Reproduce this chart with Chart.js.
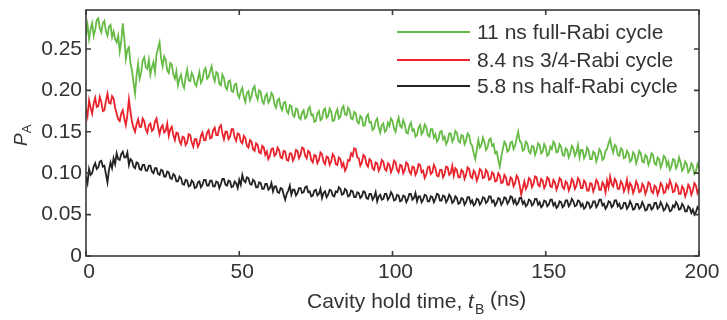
<!DOCTYPE html>
<html>
<head>
<meta charset="utf-8">
<script src="https://cdn.jsdelivr.net/npm/chart.js@4"></script>
<style>
  html, body { margin: 0; padding: 0; background: #ffffff; }
  #wrap { width: 727px; height: 320px; position: relative; }
</style>
</head>
<body>
<div id="wrap"><canvas id="c" width="727" height="320"></canvas></div>
<script>
// ---- data ----
const TIME_NS = Array.from({ length: 401 }, (_, i) => i / 2); // sampling grid, 0.5 ns steps

const SERIES_LABELS = ['11 ns full-Rabi cycle', '8.4 ns 3/4-Rabi cycle', '5.8 ns half-Rabi cycle'];

const FULL_RABI = [
  0.268, 0.279, 0.262, 0.274, 0.281, 0.266, 0.273, 0.285, 0.287, 0.275, 0.270, 0.281, 0.284, 0.271, 0.266, 0.277, 0.279, 0.264, 0.271, 0.262,
  0.258, 0.266, 0.247, 0.259, 0.281, 0.262, 0.238, 0.249, 0.252, 0.233, 0.224, 0.209, 0.196, 0.218, 0.232, 0.214, 0.221, 0.236, 0.240, 0.228,
  0.226, 0.237, 0.219, 0.228, 0.234, 0.222, 0.243, 0.251, 0.258, 0.239, 0.229, 0.241, 0.237, 0.224, 0.221, 0.233, 0.231, 0.219, 0.214, 0.223,
  0.206, 0.214, 0.219, 0.208, 0.203, 0.216, 0.225, 0.212, 0.211, 0.221, 0.217, 0.208, 0.205, 0.214, 0.222, 0.209, 0.213, 0.224, 0.227, 0.214,
  0.216, 0.223, 0.229, 0.217, 0.211, 0.222, 0.220, 0.208, 0.206, 0.219, 0.215, 0.204, 0.201, 0.211, 0.212, 0.199, 0.198, 0.207, 0.208, 0.195,
  0.191, 0.199, 0.203, 0.192, 0.186, 0.197, 0.199, 0.188, 0.193, 0.202, 0.205, 0.194, 0.189, 0.200, 0.198, 0.187, 0.184, 0.193, 0.196, 0.185,
  0.188, 0.197, 0.194, 0.183, 0.179, 0.188, 0.190, 0.180, 0.176, 0.185, 0.186, 0.175, 0.172, 0.182, 0.181, 0.170, 0.168, 0.178, 0.177, 0.167,
  0.165, 0.173, 0.176, 0.166, 0.168, 0.177, 0.180, 0.170, 0.171, 0.162, 0.163, 0.172, 0.175, 0.164, 0.166, 0.176, 0.178, 0.167, 0.169, 0.178,
  0.174, 0.163, 0.164, 0.173, 0.177, 0.166, 0.168, 0.178, 0.181, 0.171, 0.170, 0.179, 0.176, 0.166, 0.165, 0.174, 0.172, 0.162, 0.160, 0.169,
  0.167, 0.157, 0.158, 0.168, 0.171, 0.161, 0.162, 0.152, 0.154, 0.163, 0.166, 0.155, 0.149, 0.158, 0.160, 0.150, 0.152, 0.161, 0.157, 0.166,
  0.163, 0.154, 0.150, 0.160, 0.167, 0.157, 0.155, 0.164, 0.159, 0.149, 0.148, 0.157, 0.161, 0.151, 0.153, 0.144, 0.146, 0.155, 0.158, 0.147,
  0.150, 0.159, 0.156, 0.146, 0.144, 0.153, 0.153, 0.143, 0.147, 0.138, 0.141, 0.150, 0.151, 0.141, 0.144, 0.135, 0.139, 0.148, 0.148, 0.138,
  0.142, 0.151, 0.149, 0.139, 0.137, 0.146, 0.145, 0.135, 0.139, 0.148, 0.146, 0.136, 0.133, 0.124, 0.117, 0.128, 0.140, 0.131, 0.134, 0.143,
  0.138, 0.128, 0.131, 0.140, 0.142, 0.133, 0.135, 0.124, 0.126, 0.116, 0.108, 0.120, 0.129, 0.138, 0.135, 0.126, 0.128, 0.137, 0.138, 0.129,
  0.133, 0.142, 0.150, 0.139, 0.137, 0.127, 0.129, 0.138, 0.136, 0.126, 0.124, 0.133, 0.132, 0.122, 0.127, 0.136, 0.134, 0.124, 0.126, 0.135,
  0.131, 0.121, 0.123, 0.132, 0.129, 0.138, 0.135, 0.125, 0.126, 0.135, 0.132, 0.122, 0.121, 0.130, 0.128, 0.119, 0.124, 0.133, 0.130, 0.121,
  0.125, 0.134, 0.119, 0.128, 0.128, 0.118, 0.122, 0.131, 0.127, 0.117, 0.117, 0.126, 0.124, 0.114, 0.120, 0.129, 0.126, 0.116, 0.118, 0.127,
  0.129, 0.136, 0.141, 0.131, 0.125, 0.134, 0.132, 0.122, 0.121, 0.130, 0.128, 0.118, 0.119, 0.127, 0.124, 0.114, 0.116, 0.125, 0.122, 0.112,
  0.118, 0.127, 0.124, 0.114, 0.113, 0.122, 0.120, 0.110, 0.115, 0.124, 0.122, 0.112, 0.110, 0.119, 0.117, 0.107, 0.112, 0.121, 0.119, 0.109,
  0.114, 0.104, 0.108, 0.117, 0.116, 0.106, 0.110, 0.119, 0.113, 0.103, 0.106, 0.114, 0.111, 0.101, 0.104, 0.112, 0.109, 0.099, 0.102, 0.111,
  0.106
];

const THREE_QUARTER_RABI = [
  0.178, 0.169, 0.188, 0.179, 0.172, 0.184, 0.191, 0.180, 0.181, 0.192, 0.186, 0.175, 0.176, 0.187, 0.196, 0.185, 0.184, 0.193, 0.190, 0.179,
  0.172, 0.165, 0.163, 0.172, 0.176, 0.166, 0.158, 0.170, 0.189, 0.175, 0.162, 0.155, 0.150, 0.159, 0.165, 0.156, 0.156, 0.166, 0.163, 0.153,
  0.149, 0.158, 0.160, 0.151, 0.153, 0.162, 0.166, 0.156, 0.147, 0.155, 0.158, 0.149, 0.151, 0.160, 0.145, 0.153, 0.156, 0.146, 0.140, 0.149,
  0.148, 0.139, 0.135, 0.144, 0.143, 0.134, 0.137, 0.147, 0.146, 0.137, 0.132, 0.141, 0.141, 0.132, 0.136, 0.145, 0.149, 0.140, 0.140, 0.149,
  0.152, 0.142, 0.143, 0.152, 0.155, 0.146, 0.146, 0.155, 0.158, 0.148, 0.141, 0.150, 0.150, 0.141, 0.144, 0.153, 0.153, 0.143, 0.139, 0.148,
  0.147, 0.138, 0.136, 0.145, 0.142, 0.133, 0.131, 0.140, 0.138, 0.129, 0.127, 0.136, 0.134, 0.125, 0.124, 0.133, 0.131, 0.122, 0.126, 0.117,
  0.121, 0.129, 0.130, 0.121, 0.123, 0.131, 0.128, 0.119, 0.118, 0.127, 0.126, 0.116, 0.115, 0.124, 0.124, 0.115, 0.119, 0.128, 0.127, 0.118,
  0.122, 0.131, 0.130, 0.121, 0.118, 0.127, 0.125, 0.116, 0.113, 0.122, 0.121, 0.112, 0.116, 0.125, 0.123, 0.114, 0.111, 0.120, 0.119, 0.110,
  0.114, 0.123, 0.120, 0.111, 0.110, 0.119, 0.117, 0.108, 0.112, 0.103, 0.107, 0.116, 0.115, 0.124, 0.121, 0.130, 0.129, 0.119, 0.118, 0.109,
  0.113, 0.122, 0.120, 0.111, 0.108, 0.117, 0.115, 0.106, 0.104, 0.113, 0.112, 0.103, 0.107, 0.116, 0.114, 0.105, 0.103, 0.112, 0.110, 0.101,
  0.106, 0.115, 0.113, 0.104, 0.101, 0.110, 0.109, 0.100, 0.104, 0.113, 0.111, 0.102, 0.099, 0.108, 0.107, 0.098, 0.102, 0.111, 0.110, 0.101,
  0.103, 0.094, 0.098, 0.107, 0.108, 0.099, 0.101, 0.110, 0.106, 0.097, 0.096, 0.104, 0.104, 0.095, 0.099, 0.108, 0.107, 0.098, 0.100, 0.109,
  0.097, 0.106, 0.104, 0.095, 0.095, 0.104, 0.102, 0.093, 0.098, 0.107, 0.105, 0.096, 0.094, 0.103, 0.100, 0.091, 0.096, 0.105, 0.103, 0.094,
  0.095, 0.104, 0.101, 0.092, 0.093, 0.101, 0.099, 0.090, 0.091, 0.100, 0.097, 0.088, 0.089, 0.098, 0.095, 0.086, 0.086, 0.095, 0.093, 0.084,
  0.088, 0.097, 0.094, 0.085, 0.074, 0.082, 0.090, 0.081, 0.085, 0.094, 0.092, 0.083, 0.087, 0.096, 0.095, 0.086, 0.084, 0.093, 0.091, 0.082,
  0.086, 0.095, 0.093, 0.084, 0.083, 0.092, 0.089, 0.080, 0.085, 0.094, 0.092, 0.083, 0.081, 0.090, 0.088, 0.079, 0.084, 0.093, 0.090, 0.081,
  0.085, 0.094, 0.091, 0.082, 0.082, 0.091, 0.088, 0.079, 0.079, 0.088, 0.087, 0.078, 0.083, 0.092, 0.089, 0.080, 0.080, 0.089, 0.086, 0.077,
  0.091, 0.083, 0.096, 0.087, 0.084, 0.093, 0.090, 0.081, 0.081, 0.090, 0.087, 0.078, 0.083, 0.092, 0.079, 0.088, 0.085, 0.076, 0.081, 0.090,
  0.086, 0.077, 0.078, 0.087, 0.084, 0.075, 0.080, 0.089, 0.087, 0.078, 0.076, 0.085, 0.083, 0.074, 0.079, 0.088, 0.085, 0.076, 0.077, 0.086,
  0.082, 0.091, 0.086, 0.077, 0.078, 0.087, 0.084, 0.075, 0.075, 0.084, 0.081, 0.072, 0.077, 0.086, 0.083, 0.074, 0.079, 0.088, 0.085, 0.076,
  0.081
];

const HALF_RABI = [
  0.096, 0.088, 0.105, 0.098, 0.100, 0.108, 0.112, 0.105, 0.107, 0.114, 0.115, 0.108, 0.109, 0.099, 0.089, 0.104, 0.113, 0.106, 0.118, 0.111,
  0.124, 0.117, 0.116, 0.123, 0.126, 0.119, 0.119, 0.125, 0.110, 0.117, 0.115, 0.108, 0.106, 0.113, 0.112, 0.105, 0.104, 0.110, 0.110, 0.103,
  0.103, 0.109, 0.109, 0.102, 0.100, 0.106, 0.106, 0.099, 0.098, 0.104, 0.103, 0.096, 0.096, 0.102, 0.101, 0.094, 0.093, 0.099, 0.097, 0.090,
  0.090, 0.096, 0.094, 0.087, 0.086, 0.092, 0.091, 0.084, 0.085, 0.091, 0.089, 0.082, 0.083, 0.089, 0.090, 0.083, 0.086, 0.092, 0.092, 0.085,
  0.085, 0.091, 0.091, 0.084, 0.084, 0.090, 0.089, 0.082, 0.087, 0.093, 0.093, 0.086, 0.085, 0.091, 0.090, 0.083, 0.084, 0.090, 0.088, 0.082,
  0.092, 0.086, 0.098, 0.091, 0.089, 0.095, 0.094, 0.087, 0.086, 0.092, 0.090, 0.083, 0.083, 0.089, 0.088, 0.081, 0.081, 0.087, 0.087, 0.080,
  0.082, 0.088, 0.078, 0.084, 0.084, 0.077, 0.076, 0.082, 0.081, 0.074, 0.068, 0.075, 0.079, 0.085, 0.074, 0.080, 0.080, 0.073, 0.076, 0.082,
  0.082, 0.076, 0.077, 0.083, 0.084, 0.077, 0.078, 0.072, 0.073, 0.079, 0.080, 0.073, 0.075, 0.081, 0.070, 0.076, 0.078, 0.071, 0.074, 0.080,
  0.079, 0.073, 0.072, 0.078, 0.077, 0.083, 0.081, 0.074, 0.075, 0.081, 0.079, 0.072, 0.073, 0.079, 0.078, 0.071, 0.071, 0.077, 0.076, 0.070,
  0.072, 0.078, 0.077, 0.070, 0.069, 0.075, 0.075, 0.068, 0.071, 0.077, 0.066, 0.072, 0.074, 0.068, 0.069, 0.075, 0.075, 0.068, 0.071, 0.077,
  0.074, 0.067, 0.068, 0.074, 0.073, 0.066, 0.067, 0.073, 0.072, 0.065, 0.069, 0.075, 0.075, 0.068, 0.070, 0.076, 0.066, 0.072, 0.072, 0.065,
  0.068, 0.074, 0.073, 0.066, 0.066, 0.072, 0.071, 0.065, 0.069, 0.075, 0.074, 0.067, 0.067, 0.073, 0.072, 0.065, 0.068, 0.074, 0.071, 0.064,
  0.066, 0.072, 0.070, 0.063, 0.064, 0.070, 0.069, 0.062, 0.065, 0.071, 0.071, 0.064, 0.067, 0.061, 0.063, 0.069, 0.068, 0.062, 0.065, 0.071,
  0.070, 0.064, 0.066, 0.072, 0.072, 0.065, 0.067, 0.061, 0.064, 0.070, 0.069, 0.062, 0.065, 0.071, 0.070, 0.063, 0.066, 0.072, 0.071, 0.064,
  0.068, 0.062, 0.064, 0.070, 0.070, 0.063, 0.066, 0.060, 0.062, 0.068, 0.067, 0.061, 0.063, 0.069, 0.069, 0.062, 0.065, 0.059, 0.061, 0.067,
  0.066, 0.060, 0.062, 0.068, 0.068, 0.061, 0.064, 0.058, 0.060, 0.066, 0.065, 0.059, 0.061, 0.067, 0.067, 0.060, 0.063, 0.069, 0.066, 0.060,
  0.061, 0.067, 0.066, 0.060, 0.063, 0.057, 0.059, 0.065, 0.064, 0.058, 0.060, 0.066, 0.066, 0.059, 0.062, 0.068, 0.068, 0.061, 0.063, 0.057,
  0.060, 0.066, 0.065, 0.059, 0.061, 0.067, 0.067, 0.060, 0.063, 0.057, 0.058, 0.064, 0.064, 0.057, 0.060, 0.066, 0.062, 0.056, 0.057, 0.063,
  0.063, 0.057, 0.059, 0.065, 0.061, 0.055, 0.056, 0.062, 0.062, 0.056, 0.058, 0.064, 0.064, 0.057, 0.059, 0.065, 0.061, 0.055, 0.057, 0.063,
  0.060, 0.054, 0.055, 0.061, 0.059, 0.065, 0.062, 0.056, 0.057, 0.063, 0.060, 0.054, 0.054, 0.060, 0.058, 0.052, 0.056, 0.050, 0.053, 0.059,
  0.056
];

const X_TICKS = [0, 50, 100, 150, 200];
const Y_TICKS = [0, 0.05, 0.10, 0.15, 0.20, 0.25];
const Y_TICK_LABELS = ['0', '0.05', '0.10', '0.15', '0.20', '0.25'];
const X_RANGE = [0, 200];
const Y_RANGE = [0, 0.297];

// ---- styles ----
const COLORS = ['#66bb46', '#e8232b', '#232323'];
const TEXT_COLOR = '#333333';
const AXIS_COLOR = '#3a3a3a';
const FONT = '"Liberation Sans", Arial, Helvetica, sans-serif';

const seriesValues = [FULL_RABI, THREE_QUARTER_RABI, HALF_RABI];

const datasets = seriesValues.map((vals, k) => ({
  label: SERIES_LABELS[k],
  data: TIME_NS.map((t, i) => ({ x: t, y: vals[i] })),
  borderColor: COLORS[k],
  backgroundColor: COLORS[k],
  borderWidth: 1.8,
  pointRadius: 0,
  tension: 0,
  order: 3 - k
}));

const framePlugin = {
  id: 'frameAndLabels',
  afterDraw(chart) {
    const { ctx, chartArea: a, scales: { x, y } } = chart;
    ctx.save();
    // frame
    ctx.strokeStyle = AXIS_COLOR;
    ctx.lineWidth = 1.6;
    ctx.strokeRect(a.left, a.top, a.right - a.left, a.bottom - a.top);
    // inward ticks on all sides
    const TL = 5;
    ctx.beginPath();
    X_TICKS.forEach(v => {
      const px = x.getPixelForValue(v);
      ctx.moveTo(px, a.bottom); ctx.lineTo(px, a.bottom - TL);
      ctx.moveTo(px, a.top); ctx.lineTo(px, a.top + TL);
    });
    Y_TICKS.forEach(v => {
      const py = y.getPixelForValue(v);
      ctx.moveTo(a.left, py); ctx.lineTo(a.left + TL, py);
      ctx.moveTo(a.right, py); ctx.lineTo(a.right - TL, py);
    });
    ctx.stroke();

    // legend (inside plot, top right)
    const lx0 = a.left + 311, lx1 = a.left + 384, tx = a.left + 391;
    const rows = [a.top + 22, a.top + 50, a.top + 76];
    ctx.font = '21px ' + FONT;
    ctx.textBaseline = 'middle';
    ctx.textAlign = 'left';
    chart.data.datasets.forEach((ds, k) => {
      ctx.strokeStyle = ds.borderColor;
      ctx.lineWidth = 2;
      ctx.beginPath();
      ctx.moveTo(lx0, rows[k]); ctx.lineTo(lx1, rows[k]);
      ctx.stroke();
      ctx.fillStyle = TEXT_COLOR;
      ctx.fillText(ds.label, tx, rows[k] + 1);
    });

    // x-axis title: Cavity hold time, t_B (ns)
    ctx.fillStyle = TEXT_COLOR;
    ctx.textBaseline = 'alphabetic';
    let cx = 307;
    const base = 308;
    ctx.font = '21px ' + FONT;
    const part1 = 'Cavity hold time, ';
    ctx.fillText(part1, cx, base);
    cx += ctx.measureText(part1).width;
    ctx.font = 'italic 21px ' + FONT;
    ctx.fillText('t', cx, base);
    cx += ctx.measureText('t').width + 1;
    ctx.font = '14px ' + FONT;
    ctx.fillText('B', cx, base + 6);
    cx += ctx.measureText('B').width;
    ctx.font = '21px ' + FONT;
    ctx.fillText(' (ns)', cx, base - 2);

    // y-axis title: P_A (rotated)
    ctx.translate(27, 146);
    ctx.rotate(-Math.PI / 2);
    ctx.font = 'italic 19px ' + FONT;
    ctx.fillText('P', 0, 0);
    const pw = ctx.measureText('P').width;
    ctx.font = '13px ' + FONT;
    ctx.fillText('A', pw, 4);
    ctx.restore();
  }
};

new Chart(document.getElementById('c'), {
  type: 'line',
  data: { datasets },
  options: {
    responsive: false,
    animation: false,
    devicePixelRatio: 1,
    layout: { padding: { top: 10, right: 28, left: 0, bottom: 0 } },
    plugins: { legend: { display: false }, tooltip: { enabled: false } },
    scales: {
      x: {
        type: 'linear',
        min: X_RANGE[0], max: X_RANGE[1],
        grid: { display: false, drawTicks: false },
        border: { display: false },
        afterBuildTicks: s => { s.ticks = X_TICKS.map(v => ({ value: v })); },
        afterFit: s => { s.height = 64; s.paddingLeft = 0; s.paddingRight = 0; },
        ticks: {
          color: TEXT_COLOR,
          font: { family: FONT, size: 21 },
          padding: 4,
          labelOffset: 3,
          maxRotation: 0,
          callback: v => String(v)
        }
      },
      y: {
        type: 'linear',
        min: Y_RANGE[0], max: Y_RANGE[1],
        grid: { display: false, drawTicks: false },
        border: { display: false },
        afterBuildTicks: s => { s.ticks = Y_TICKS.map(v => ({ value: v })); },
        afterFit: s => { s.width = 86; s.paddingTop = 0; s.paddingBottom = 0; },
        ticks: {
          color: TEXT_COLOR,
          font: { family: FONT, size: 21 },
          padding: 4,
          callback: (v) => {
            const i = Y_TICKS.findIndex(t => Math.abs(t - v) < 1e-9);
            return i >= 0 ? Y_TICK_LABELS[i] : '';
          }
        }
      }
    }
  },
  plugins: [framePlugin]
});
</script>
</body>
</html>
